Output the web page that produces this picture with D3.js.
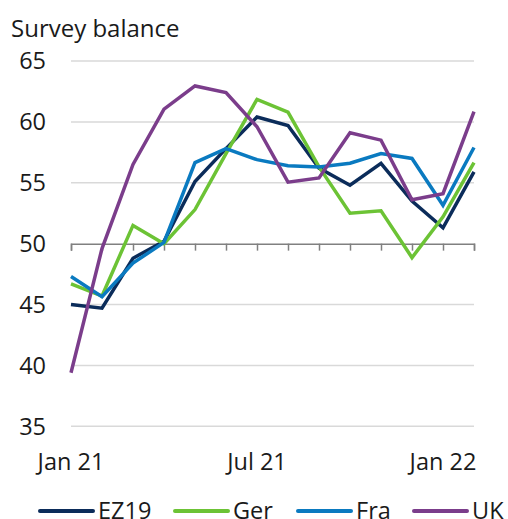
<!DOCTYPE html>
<html>
<head>
<meta charset="utf-8">
<script src="https://cdn.jsdelivr.net/npm/d3@7"></script>
<style>
  body { margin: 0; background: #fff; }
  svg { font-family: "Open Sans", "Noto Sans", sans-serif; }
</style>
</head>
<body>
<div id="chart"></div>
<script>
const months = ['Jan 21', 'Feb 21', 'Mar 21', 'Apr 21', 'May 21', 'Jun 21', 'Jul 21',
  'Aug 21', 'Sep 21', 'Oct 21', 'Nov 21', 'Dec 21', 'Jan 22', 'Feb 22'];
const xLabels = { 0: 'Jan 21', 6: 'Jul 21', 12: 'Jan 22' };
const yTicks = [35, 40, 45, 50, 55, 60, 65];

const ez19 = [45.0, 44.7, 48.8, 50.2, 55.1, 57.8, 60.4, 59.7, 56.2, 54.8, 56.6, 53.5, 51.3, 55.9];
const ger = [46.7, 45.7, 51.5, 50.0, 52.8, 57.4, 61.85, 60.8, 56.3, 52.5, 52.7, 48.85, 52.2, 56.65];
const fra = [47.3, 45.65, 48.4, 50.1, 56.65, 57.8, 56.9, 56.4, 56.3, 56.6, 57.4, 57.0, 53.15, 57.9];
const uk = [39.4, 49.6, 56.5, 61.05, 62.95, 62.4, 59.6, 55.05, 55.4, 59.1, 58.5, 53.6, 54.1, 60.85];

const series = [
  { name: 'EZ19', values: ez19, color: '#0b2c5a' },
  { name: 'Ger', values: ger, color: '#6cc335' },
  { name: 'Fra', values: fra, color: '#0a7ac0' },
  { name: 'UK', values: uk, color: '#7b3d8b' }
];

const width = 508;
const height = 519;

const svg = d3.select('#chart')
  .append('svg')
  .attr('width', width)
  .attr('height', height);

const x = d3.scaleLinear()
  .domain([0, months.length - 1])
  .range([71, 474]);

const y = d3.scaleLinear()
  .domain([35, 65])
  .range([426.3, 61]);

// title
svg.append('text')
  .attr('x', 11)
  .attr('y', 37)
  .style('font-size', '24px')
  .attr('fill', '#1a1a1a')
  .text('Survey balance');

// gridlines
svg.append('g')
  .selectAll('line')
  .data(yTicks.filter(d => d !== 50))
  .join('line')
  .attr('x1', x(0))
  .attr('x2', x(months.length - 1))
  .attr('y1', d => y(d))
  .attr('y2', d => y(d))
  .attr('stroke', '#d9d9d9')
  .attr('stroke-width', 1.5);

// y labels
svg.append('g')
  .selectAll('text')
  .data(yTicks)
  .join('text')
  .attr('x', 46)
  .attr('y', d => y(d))
  .attr('dy', '0.35em')
  .attr('text-anchor', 'end')
  .style('font-size', '23.5px')
  .attr('fill', '#1a1a1a')
  .text(d => d);

// x axis sits on the 50 line
const xAxis = d3.axisBottom(x)
  .tickValues(d3.range(months.length))
  .tickSize(7)
  .tickFormat('');

const axisG = svg.append('g')
  .attr('transform', `translate(0,${y(50)})`)
  .call(xAxis);
axisG.select('.domain').attr('stroke', '#808080').attr('stroke-width', 1.5);
axisG.selectAll('.tick line').attr('stroke', '#808080').attr('stroke-width', 1.5);

// x labels
svg.append('g')
  .selectAll('text')
  .data(Object.keys(xLabels).map(Number))
  .join('text')
  .attr('x', d => x(d))
  .attr('y', 470)
  .attr('text-anchor', 'middle')
  .style('font-size', '23.5px')
  .attr('fill', '#1a1a1a')
  .text(d => xLabels[d]);

// lines
const line = d3.line()
  .x((d, i) => x(i))
  .y(d => y(d));

svg.append('g')
  .selectAll('path')
  .data(series)
  .join('path')
  .attr('d', d => line(d.values))
  .attr('fill', 'none')
  .attr('stroke', d => d.color)
  .attr('stroke-width', 3.5)
  .attr('stroke-linejoin', 'miter');

// legend
const legendX = [40, 175, 298, 414];
const legend = svg.append('g')
  .selectAll('g')
  .data(series)
  .join('g')
  .attr('transform', (d, i) => `translate(${legendX[i]},511)`);

legend.append('line')
  .attr('x1', 0)
  .attr('x2', 53)
  .attr('stroke', d => d.color)
  .attr('stroke-width', 4)
  .attr('stroke-linecap', 'round');

legend.append('text')
  .attr('x', 58)
  .attr('dy', '0.35em')
  .style('font-size', '23.5px')
  .attr('fill', '#1a1a1a')
  .text(d => d.name);
</script>
</body>
</html>
